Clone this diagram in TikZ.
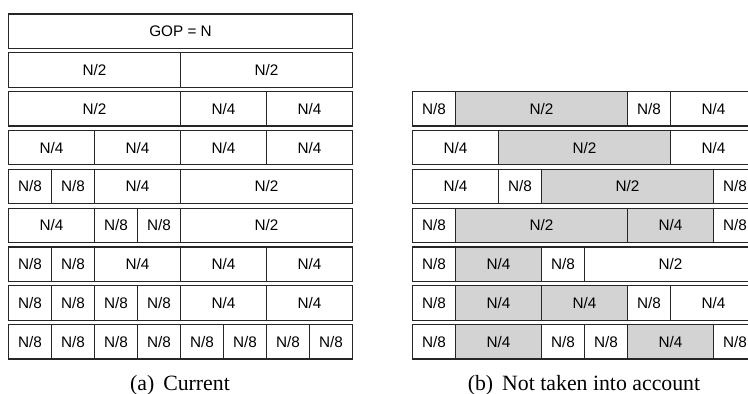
\documentclass[tikz,border=0pt]{standalone}
\usepackage{fontspec}
\setmainfont{Liberation Serif}
\setsansfont{Liberation Sans}
\definecolor{cellgray}{RGB}{211,211,211}
% label of a cell from its width in eighths of the GOP
\newcommand\celltext[1]{\ifcase#1\or N/8\or N/4\or\or N/2\or\or\or\or GOP = N\fi}
\begin{document}
\begin{tikzpicture}[x=1pt,y=-1pt,
  cell/.style={draw=black!85, line width=1.2pt, fill=white, rectangle,
    inner sep=0pt, outer sep=0pt, anchor=north west, minimum height=34.3pt,
    font=\sffamily\fontsize{15.3}{18}\selectfont},
  shaded/.style={cell, fill=cellgray},
  subcap/.style={font=\fontsize{21.8}{25}\selectfont, anchor=base, inner sep=0pt}]
\useasboundingbox (0,0) rectangle (748,394);
\clip (0,0) rectangle (748,394);

% (a) current partitioning: start/width in units of N/8
\foreach \r/\cells in {
  0/{0/8},
  1/{0/4,4/4},
  2/{0/4,4/2,6/2},
  3/{0/2,2/2,4/2,6/2},
  4/{0/1,1/1,2/2,4/4},
  5/{0/2,2/1,3/1,4/4},
  6/{0/1,1/1,2/2,4/2,6/2},
  7/{0/1,1/1,2/1,3/1,4/2,6/2},
  8/{0/1,1/1,2/1,3/1,4/1,5/1,6/1,7/1}}{
  \foreach \s/\w in \cells {
    \node[cell, minimum width={\w*43pt}] (L-\r-\s)
      at ({8.5+\s*43}, {14+\r*38.84}) {\celltext{\w}};
  }
}

% (b) partitions not taken into account
\foreach \r/\cells in {
  2/{0/1/cell,1/4/shaded,5/1/cell,6/2/cell},
  3/{0/2/cell,2/4/shaded,6/2/cell},
  4/{0/2/cell,2/1/cell,3/4/shaded,7/1/cell},
  5/{0/1/cell,1/4/shaded,5/2/shaded,7/1/cell},
  6/{0/1/cell,1/2/shaded,3/1/cell,4/4/cell},
  7/{0/1/cell,1/2/shaded,3/2/shaded,5/1/cell,6/2/cell},
  8/{0/1/cell,1/2/shaded,3/1/cell,4/1/cell,5/2/shaded,7/1/cell}}{
  \foreach \s/\w/\f in \cells {
    \node[\f, minimum width={\w*43pt}] (R-\r-\s)
      at ({412.5+\s*43}, {14+\r*38.84}) {\celltext{\w}};
  }
}

\node[subcap] (capa) at (180,390) {(a)\hspace{9pt}Current};
\node[subcap] (capb) at (584,390) {(b)\hspace{9pt}Not taken into account};
\end{tikzpicture}
\end{document}
